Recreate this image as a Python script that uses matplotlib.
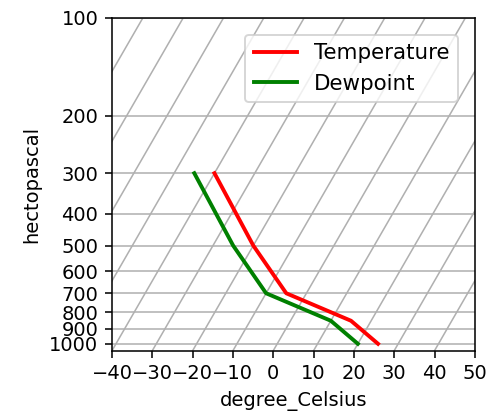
import matplotlib
matplotlib.use("Agg")
import matplotlib.pyplot as plt
import matplotlib.transforms as mtransforms
from matplotlib.ticker import ScalarFormatter, NullLocator
import numpy as np

# Sounding data (hPa, degC)
pressure = [1000, 850, 700, 500, 300]
temperature = [25, 15, -5, -20, -40]
dewpoint = [20, 10, -10, -25, -45]

p_ticks = [100, 200, 300, 400, 500, 600, 700, 800, 900, 1000]
t_ticks = [-40, -30, -20, -10, 0, 10, 20, 30, 40, 50]
isotherms = np.arange(-100, 60, 10)

dpi = 140
fig = plt.figure(figsize=(489 / dpi, 418 / dpi), dpi=dpi)
ax = fig.add_axes([0.229, 0.161, 0.742, 0.797])

ax.set_yscale('log')
ax.set_ylim(1050, 100)
ax.set_xlim(-40, 50)
ax.set_yticks(p_ticks)
ax.yaxis.set_major_formatter(ScalarFormatter())
ax.yaxis.set_minor_locator(NullLocator())
ax.set_xticks(t_ticks)
ax.yaxis.grid(True)

# skew-T: 30 deg skew in display space, anchored at the bottom of the axes
ybot = fig.bbox.height * ax.get_position().y0
skew = ax.transData + mtransforms.Affine2D().translate(0, -ybot).skew_deg(30, 0).translate(0, ybot)

for t in isotherms:
    ax.plot([t, t], [1050, 100], color='#b0b0b0', lw=0.8, transform=skew, zorder=0.5)

ax.plot(temperature, pressure, color='r', lw=2, label='Temperature', transform=skew)
ax.plot(dewpoint, pressure, color='g', lw=2, label='Dewpoint', transform=skew)

ax.set_xlim(-40, 50)
ax.set_ylim(1050, 100)
ax.set_xlabel('degree_Celsius')
ax.set_ylabel('hectopascal')
ax.legend(loc='upper right', fontsize=11, borderaxespad=0.8)

fig.savefig('out.png', dpi=dpi)
